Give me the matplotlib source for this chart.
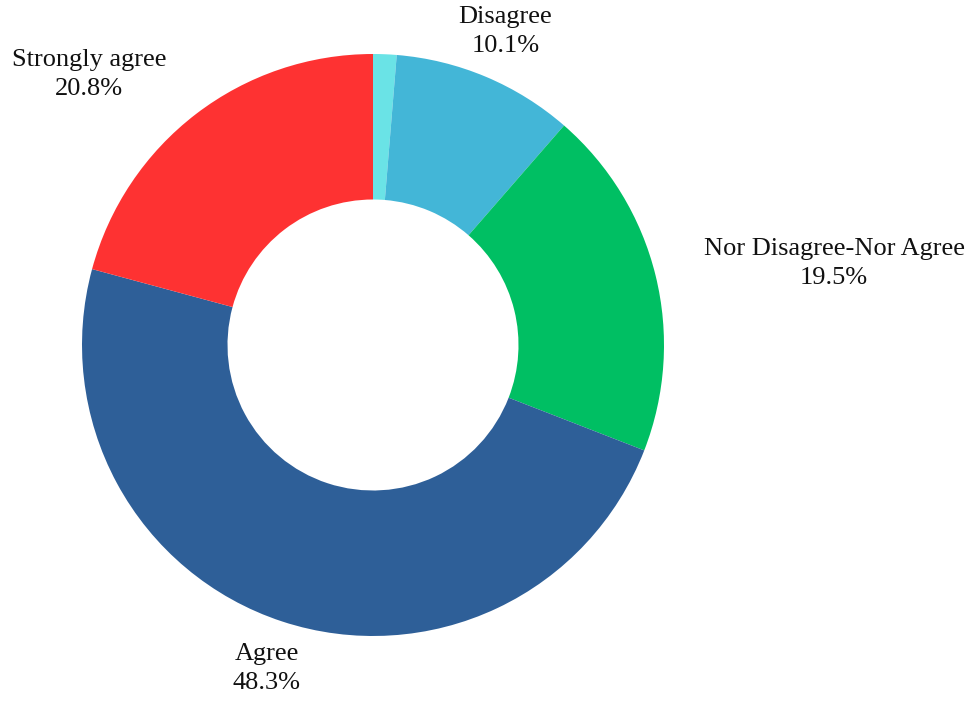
import numpy as np
import matplotlib.pyplot as plt

labels = ['Strongly disagree', 'Disagree', 'Nor Disagree-Nor Agree', 'Agree', 'Strongly agree']
values = [1.3, 10.1, 19.5, 48.3, 20.8]
shown = [False, True, True, True, True]
colors = ['#6ae3e6', '#43b6d7', '#00bf63', '#2e5f98', '#fe3232']

fig = plt.figure(figsize=(9.66, 7.01), dpi=100)
ax = fig.add_axes([0, 0, 1, 1])

wedges, _ = ax.pie(values, colors=colors, startangle=90, counterclock=False,
                   radius=1.0, wedgeprops=dict(width=0.5, linewidth=0))

for w, lab, v, show in zip(wedges, labels, values, shown):
    if not show:
        continue
    ang = np.deg2rad((w.theta1 + w.theta2) / 2)
    x, y = 1.17 * np.cos(ang), 1.17 * np.sin(ang)
    if abs(np.cos(ang)) < 0.5:
        ha = 'center'
    else:
        ha = 'left' if x > 0 else 'right'
    ax.text(x, y, f'{lab}\n{v:.1f}%', ha=ha, va='center', multialignment='center',
            fontsize=19, family='Liberation Serif', color='#111111', linespacing=1.4)

ax.set_xlim(-373 / 291, 593 / 291)
ax.set_ylim(-356 / 291, 345 / 291)
ax.set_aspect('auto')
ax.axis('off')

fig.savefig('out.png', dpi=100)
